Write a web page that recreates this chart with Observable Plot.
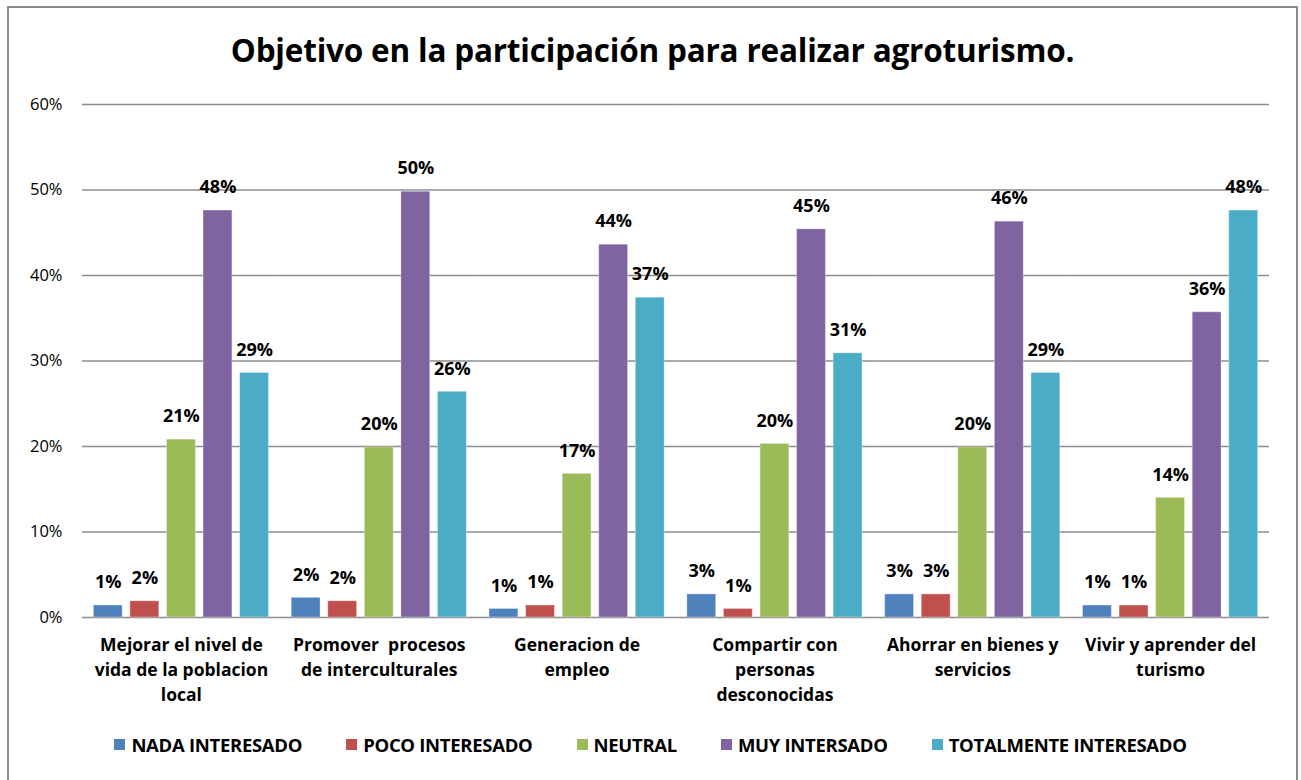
<!DOCTYPE html>
<html><head><meta charset="utf-8">
<script src="https://cdn.jsdelivr.net/npm/d3@7"></script>
<script src="https://cdn.jsdelivr.net/npm/@observablehq/plot@0.6"></script>
<style>
html,body{margin:0;padding:0;background:#fff;}
body{font-family:"Open Sans",Lato,sans-serif;color:#000;}
#wrap{position:relative;width:1301px;height:780px;overflow:hidden;}
#frame{position:absolute;left:7px;top:6px;width:1291px;height:790px;border:2px solid #8c8c8c;box-sizing:border-box;}
#title{position:absolute;left:0;width:1305px;top:28px;text-align:center;font-weight:bold;font-size:31.5px;letter-spacing:-0.2px;}
#chart{position:absolute;left:0;top:80px;}
#legend{position:absolute;top:732px;left:0;width:1301px;display:flex;justify-content:center;gap:44px;font-weight:bold;font-size:18.5px;letter-spacing:-0.3px;}
#legend span.item{display:flex;align-items:center;}
#legend span.sw{display:inline-block;width:11px;height:11px;margin-right:6px;}
</style>
</head><body>
<div id="wrap">
<div id="frame"></div>
<div id="title">Objetivo en la participación para realizar agroturismo.</div>
<div id="chart"></div>
<div id="legend"></div>
</div>
<script>
const categories = [
  "Mejorar el nivel de\nvida de la poblacion\nlocal",
  "Promover  procesos\nde interculturales",
  "Generacion de\nempleo",
  "Compartir con\npersonas\ndesconocidas",
  "Ahorrar en bienes y\nservicios",
  "Vivir y aprender del\nturismo"
];
const series = ["NADA INTERESADO","POCO INTERESADO","NEUTRAL","MUY INTERSADO","TOTALMENTE INTERESADO"];
const colors = ["#4F81BD","#C0504D","#9BBB59","#8064A2","#4BACC6"];
const nada      = [0.014, 0.023, 0.010, 0.027, 0.027, 0.014];
const poco      = [0.019, 0.019, 0.014, 0.010, 0.027, 0.014];
const neutral   = [0.208, 0.199, 0.168, 0.203, 0.199, 0.140];
const muy       = [0.476, 0.498, 0.436, 0.454, 0.463, 0.357];
const totalmente= [0.286, 0.264, 0.374, 0.309, 0.286, 0.476];
const yTicks = [0, 0.1, 0.2, 0.3, 0.4, 0.5, 0.6];

const seriesValues = [nada, poco, neutral, muy, totalmente];
const data = [];
categories.forEach((c, i) => series.forEach((s, j) => data.push({category: c, series: s, value: seriesValues[j][i]})));

const font = "'Open Sans', Lato, sans-serif";
const chart = Plot.plot({
  width: 1301, height: 640,
  marginLeft: 82, marginRight: 32, marginTop: 24, marginBottom: 103,
  style: {fontFamily: font, fontSize: "16px", color: "#000", background: "transparent", overflow: "visible"},
  fx: {domain: categories, padding: 0, round: false, label: null},
  x: {domain: series, paddingInner: 0.21, paddingOuter: 0.31, round: false, axis: null},
  y: {domain: [0, 0.6], axis: null},
  color: {domain: series, range: colors},
  marks: [
    Plot.ruleY(yTicks, {stroke: "#8c8c8c", strokeWidth: 1.3}),
    Plot.barY(data, {fx: "category", x: "series", y: "value", fill: "series", stroke: "#ffffff", strokeOpacity: 0.35, strokeWidth: 1}),
    Plot.text(data, {fx: "category", x: "series", y: "value", text: d => Math.round(d.value * 100) + "%", dy: -23, fontWeight: "bold", fontSize: 18, letterSpacing: -0.5, fill: "#000"}),
    Plot.axisY(yTicks, {anchor: "left", tickSize: 0, tickPadding: 20, tickFormat: d => Math.round(d * 100) + "%", fontSize: 16.5, label: null}),
    Plot.axisFx({anchor: "bottom", tickSize: 0, tickPadding: 16, fontWeight: "bold", fontSize: 17.5, lineHeight: 1.43, label: null, letterSpacing: -0.3})
  ]
});
document.getElementById("chart").appendChild(chart);

const legend = document.getElementById("legend");
series.forEach((s, j) => {
  const item = document.createElement("span");
  item.className = "item";
  const sw = document.createElement("span");
  sw.className = "sw";
  sw.style.background = colors[j];
  item.appendChild(sw);
  item.appendChild(document.createTextNode(s));
  legend.appendChild(item);
});
</script>
</body></html>
